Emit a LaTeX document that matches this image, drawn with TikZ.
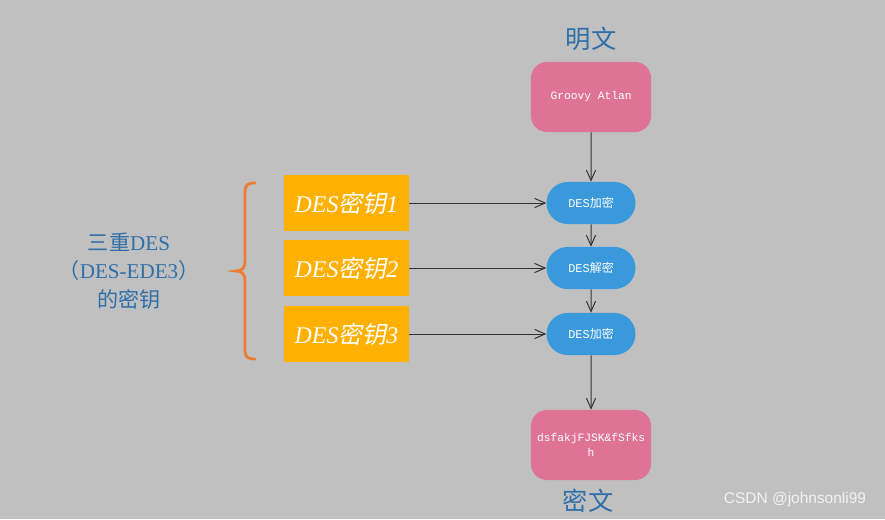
\documentclass[tikz,border=0pt]{standalone}
\usepackage{fontspec}
\setmainfont{Liberation Serif}
\setmonofont{Liberation Mono}
\newfontfamily\cjk{Noto Sans CJK SC}
\newfontfamily\cjkit[FakeSlant=0.2]{Noto Sans CJK SC}
\newfontfamily\wmfont{Liberation Sans}
\usetikzlibrary{arrows.meta, shapes.misc}

\definecolor{bggray}{HTML}{C0C0C0}
\definecolor{plainpink}{HTML}{DE7396}
\definecolor{stepblue}{HTML}{3A99DB}
\definecolor{keyorange}{HTML}{FFB000}
\definecolor{braceorange}{HTML}{ED7D31}
\definecolor{labelblue}{HTML}{2E6FAA}
\definecolor{linegray}{HTML}{333333}

\begin{document}
\begin{tikzpicture}[x=0.025cm, y=-0.025cm]


\tikzset{textbox/.style={fill=plainpink, shape=rectangle, rounded corners=0.4cm, draw=none, minimum width=3cm, minimum height=1.75cm, inner sep=0, align=center, text=white, font=\fontsize{8}{11}\selectfont\ttfamily}}
\tikzset{stepnode/.style={fill=stepblue, shape=rounded rectangle, draw=none, minimum width=2.225cm, minimum height=1.05cm, inner sep=0, text=white, font=\fontsize{8.5}{10}\selectfont\ttfamily}}
\tikzset{keybox/.style={fill=keyorange, shape=rectangle, draw=none, minimum width=3.125cm, minimum height=1.4cm, inner sep=0, text=white, font=\fontsize{17}{20}\selectfont\itshape}}
\tikzset{title/.style={text=labelblue, font=\fontsize{18}{20}\selectfont\cjk}}
\tikzset{conn/.style={draw=linegray, line width=0.7pt, -{Straight Barb[length=2.6mm, width=2.3mm]}}}

\fill[bggray] (0,0) rectangle (885,519);
\useasboundingbox (0,0) rectangle (885,519);

\node[title] (ptitle) at (591,39) {明文};
\node[textbox] (plain) at (591,97) {Groovy Atlan};
\node[stepnode] (enc1) at (591,203) {DES{\cjk 加密}};
\node[stepnode] (dec) at (591,268) {DES{\cjk 解密}};
\node[stepnode] (enc2) at (591,334) {DES{\cjk 加密}};
\node[textbox] (cipher) at (591,445) {dsfakjFJSK\&fSfks\\h};
\node[title] (ctitle) at (588,501) {密文};

\node[keybox] (k1) at (346.5,203) {DES{\cjkit 密钥}1};
\node[keybox] (k2) at (346.5,268) {DES{\cjkit 密钥}2};
\node[keybox] (k3) at (346.5,334) {DES{\cjkit 密钥}3};

\node[text=labelblue, align=center, font=\fontsize{15}{20}\selectfont] (keys) at (129,271)
  {{\cjk 三重}DES\\{\cjk （}DES-EDE3{\cjk ）}\\{\cjk 的密钥}};

\draw[conn] (plain) edge (enc1);
\draw[conn] (enc1) edge (dec);
\draw[conn] (dec) edge (enc2);
\draw[conn] (enc2) edge (cipher);
\draw[conn] (k1) edge (enc1);
\draw[conn] (k2) edge (dec);
\draw[conn] (k3) edge (enc2);

% brace
\coordinate (btop) at (255,183);
\coordinate (bbot) at (255,359);
\coordinate (btip) at (236,271);
\draw[braceorange, line width=2pt, line cap=round]
  (btop) .. controls (247,183) and (245,185) .. (245,193) -- (245,261)
  .. controls (245,268) and (242,271) .. (btip)
  .. controls (242,271) and (245,274) .. (245,281) -- (245,349)
  .. controls (245,357) and (247,359) .. (bbot);

\node[text=white!90!gray, font=\fontsize{11}{13}\selectfont\wmfont] (mark) at (795,499) {CSDN @johnsonli99};

\end{tikzpicture}
\end{document}
